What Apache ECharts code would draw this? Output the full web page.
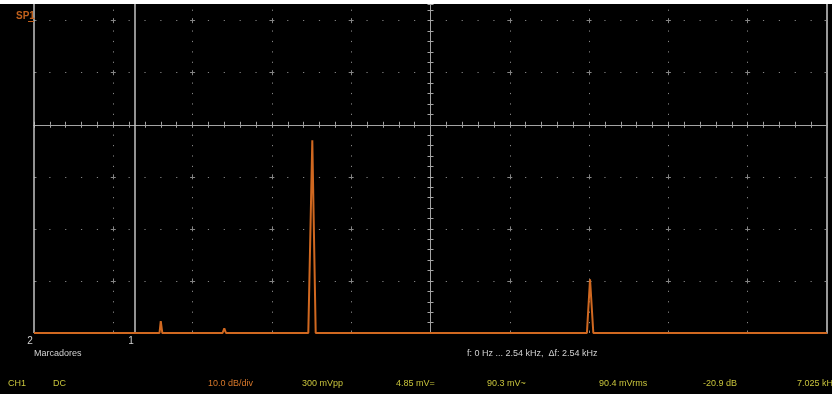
<!DOCTYPE html>
<html>
<head>
<meta charset="utf-8">
<script src="https://cdn.jsdelivr.net/npm/echarts@6/dist/echarts.min.js"></script>
<style>
  html, body { margin: 0; padding: 0; background: #000; }
  #chart { width: 832px; height: 394px; }
</style>
</head>
<body>
<div id="chart"></div>
<script>
// Spectrum trace vertices: frequency (Hz) and level (dB)
const freqHz  = [0, 402, 406, 411, 604, 609.5, 615, 878.6, 891.4, 902.3, 1771, 1781, 1791.5, 2540];
const levelDb = [-40, -40, -37.7, -40, -40, -39.1, -40, -40, -3.0, -40, -40, -29.7, -40, -40];

// Cursor markers
const markerNames = ['2', '1'];
const markerHz = [0, 323.5];

// Span and vertical scale
const spanHz = [0, 2540];
const hzPerDiv = 254;
const levelRange = [-40, 23.2];
const dbPerDiv = 10;
const centerHz = 1270;

// Status line texts
const channelName = 'SP1';
const markerTitle = 'Marcadores';
const spanText = 'f: 0 Hz ... 2.54 kHz,  \u0394f: 2.54 kHz';
const readoutTexts = ['CH1', 'DC', '10.0 dB/div', '300 mVpp', '4.85 mV=', '90.3 mV~', '90.4 mVrms', '-20.9 dB', '7.025 kHz'];

// ---- layout ----
const W = 832, H = 394;
const G = { left: 34, top: 4, right: 5, bottom: 61 };
const gridW = W - G.left - G.right;
const gridH = H - G.top - G.bottom;
const divW = gridW * hzPerDiv / (spanHz[1] - spanHz[0]);
const divH = gridH * dbPerDiv / (levelRange[1] - levelRange[0]);

const GRID_COLOR = '#858585';
const AXIS_COLOR = '#a4a4a4';
const TRACE = '#d06820';
const YELLOW = '#c8c43c';
const ORANGE = '#d8782a';
const LIGHT = '#d2d2d2';
const FONT = '"Liberation Sans", Arial, sans-serif';

// dotted graticule: a short arm at each division plus a dot at each fifth
function gridDash(period, minorCount, arm, dot) {
  const step = period / minorCount;
  const arr = [arm];
  let pos = arm / 2;
  for (let i = 1; i < minorCount; i++) {
    const start = i * step - dot / 2;
    arr.push(start - pos, dot);
    pos = start + dot;
  }
  arr.push(period - arm / 2 - pos);
  return arr;
}
const ARM = 5, DOT = 1.2;
const mod = (a, m) => ((a % m) + m) % m;
// vertical graticule lines run from the top edge; divisions counted up from the bottom
const vDash = gridDash(divH, 5, ARM, DOT);
const vOffset = mod(-(gridH - ARM / 2), divH);
// horizontal graticule lines run from the left edge
const hDash = gridDash(divW, 5, ARM, DOT);
const hOffset = mod(ARM / 2, divW);

const traceData = freqHz.map((f, i) => [f, levelDb[i]]);

const hiddenLabel = { show: false };

function centerXAxis(inside) {
  return {
    type: 'value', min: spanHz[0], max: spanHz[1], interval: hzPerDiv,
    position: 'bottom',
    axisLine: { show: true, onZero: true, onZeroAxisIndex: 0, lineStyle: { color: AXIS_COLOR, width: 1 } },
    axisTick: { show: true, inside: inside, length: 3, lineStyle: { color: AXIS_COLOR } },
    minorTick: { show: true, splitNumber: 5, length: 3, lineStyle: { color: AXIS_COLOR } },
    axisLabel: hiddenLabel,
    splitLine: { show: false }
  };
}
function centerYAxis(inside) {
  return {
    type: 'value', min: levelRange[0], max: levelRange[1], interval: dbPerDiv,
    position: 'left', offset: -(gridW * (centerHz - spanHz[0]) / (spanHz[1] - spanHz[0])),
    axisLine: { show: true, onZero: false, lineStyle: { color: AXIS_COLOR, width: 1 } },
    axisTick: { show: true, inside: inside, length: 3, lineStyle: { color: AXIS_COLOR } },
    minorTick: { show: true, splitNumber: 5, length: 3, lineStyle: { color: AXIS_COLOR } },
    axisLabel: hiddenLabel,
    splitLine: { show: false }
  };
}

const readoutX = [8, 53, 208, 302, 396, 487, 599, 703, 797];
const readoutColor = readoutTexts.map(t => (t.indexOf('dB/div') >= 0 ? ORANGE : YELLOW));

const graphics = [
  { type: 'rect', shape: { x: 0, y: 0, width: W, height: 4 }, style: { fill: '#ffffff' }, z: 100 },
  { type: 'text', x: 16, y: 16, style: { text: channelName, fill: '#c0601c', font: 'bold 10px ' + FONT, textVerticalAlign: 'middle' }, z: 50 },
  { type: 'line', shape: { x1: 28, y1: 21.5, x2: 34, y2: 21.5 }, style: { stroke: '#c0601c', lineWidth: 1 }, z: 50 },
  { type: 'text', x: 34, y: 354, style: { text: markerTitle, fill: LIGHT, font: '9px ' + FONT, textVerticalAlign: 'middle' }, z: 50 },
  { type: 'text', x: 467, y: 354, style: { text: spanText, fill: LIGHT, font: '9px ' + FONT, textVerticalAlign: 'middle' }, z: 50 }
].concat(readoutTexts.map((t, i) => ({
  type: 'text', x: readoutX[i], y: 384,
  style: { text: t, fill: readoutColor[i], font: '9px ' + FONT, textVerticalAlign: 'middle' }, z: 50
})));

const option = {
  backgroundColor: '#000',
  animation: false,
  grid: { left: G.left, right: G.right, top: G.top, bottom: G.bottom, containLabel: false },
  xAxis: [
    {
      type: 'value', min: spanHz[0], max: spanHz[1], interval: hzPerDiv,
      axisLine: { show: false }, axisTick: { show: false }, axisLabel: hiddenLabel,
      splitLine: { show: true, showMinLine: false, showMaxLine: false,
        lineStyle: { color: GRID_COLOR, width: 1, type: vDash, dashOffset: vOffset } }
    },
    centerXAxis(true),
    centerXAxis(false)
  ],
  yAxis: [
    {
      type: 'value', min: levelRange[0], max: levelRange[1], interval: dbPerDiv,
      axisLine: { show: false }, axisTick: { show: false }, axisLabel: hiddenLabel,
      splitLine: { show: true, showMinLine: false, showMaxLine: false,
        lineStyle: { color: GRID_COLOR, width: 1, type: hDash, dashOffset: hOffset } }
    },
    centerYAxis(true),
    centerYAxis(false),
    {
      type: 'value', min: levelRange[0], max: levelRange[1], position: 'right',
      axisLine: { show: true, onZero: false, lineStyle: { color: '#9a9a9a', width: 2 } },
      axisTick: { show: false }, axisLabel: hiddenLabel, splitLine: { show: false }
    }
  ],
  series: [{
    type: 'line',
    xAxisIndex: 0, yAxisIndex: 0,
    data: traceData,
    showSymbol: false,
    clip: false,
    lineStyle: { color: TRACE, width: 2 },
    z: 5,
    markLine: {
      silent: true,
      symbol: ['none', 'none'],
      animation: false,
      lineStyle: { color: '#c4c4c4', width: 1.5, type: 'solid' },
      label: {
        show: true, position: 'start', formatter: '{b}', distance: 3, offset: [-4, 0],
        color: LIGHT, fontSize: 10, fontFamily: FONT
      },
      emphasis: { disabled: true },
      data: markerHz.map((f, i) => ({ name: markerNames[i], xAxis: f }))
    }
  }],
  graphic: graphics
};

const chart = echarts.init(document.getElementById('chart'), null, { renderer: 'canvas' });
chart.setOption(option);
</script>
</body>
</html>
